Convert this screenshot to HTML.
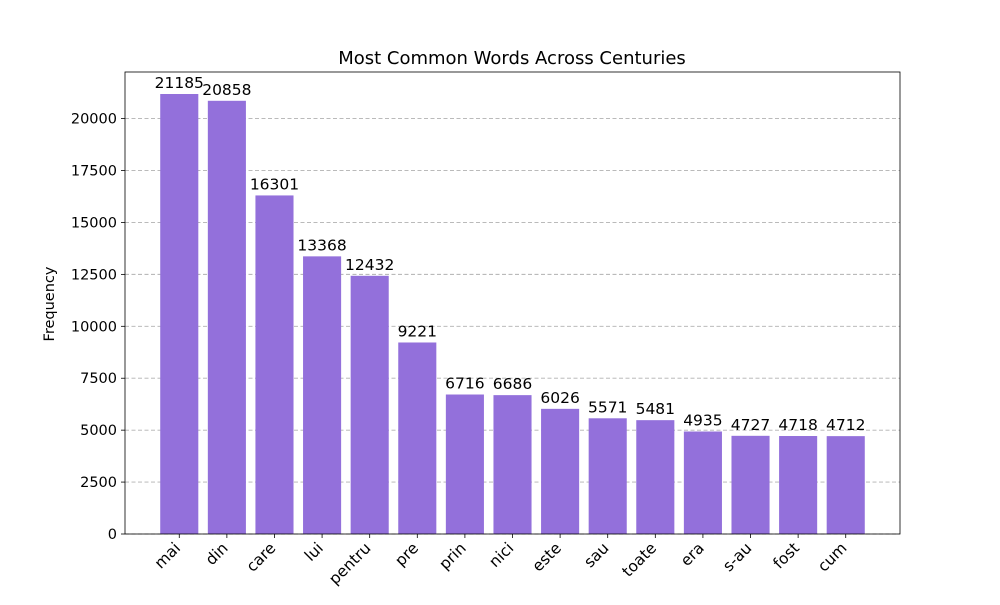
<!DOCTYPE html>
<html><head><meta charset="utf-8"><style>
body{margin:0;background:#fff;font-family:"Liberation Sans","DejaVu Sans",sans-serif}
svg text{font-family:"DejaVu Sans","Liberation Sans",sans-serif}
</style></head><body>
<svg id="c" width="1000" height="600" xmlns="http://www.w3.org/2000/svg"></svg>
<script>
const categories=["mai","din","care","lui","pentru","pre","prin","nici","este","sau","toate","era","s-au","fost","cum"];
const values=[21185,20858,16301,13368,12432,9221,6716,6686,6026,5571,5481,4935,4727,4718,4712];
const yTicks=[0,2500,5000,7500,10000,12500,15000,17500,20000];
const NS="http://www.w3.org/2000/svg";
const svg=document.getElementById('c');
const L=125,R=900,T=72,B=534;
const n=categories.length;
const x0=-0.4-0.05*(n-1+0.8), x1=n-1+0.4+0.05*(n-1+0.8);
const xs=v=>L+(v-x0)/(x1-x0)*(R-L);
const yMax=Math.max(...values)*1.05;
const ys=v=>B-v/yMax*(B-T);
function el(t,a,txt){const e=document.createElementNS(NS,t);for(const k in a)e.setAttribute(k,a[k]);if(txt!==undefined)e.textContent=txt;svg.appendChild(e);return e;}
yTicks.forEach(v=>{
 const g=el('line',{x1:L,x2:R,y1:ys(v),y2:ys(v),stroke:'#b0b0b0','stroke-width':0.9,'stroke-dasharray':'4,2.5'});
 
 
 el('line',{x1:L-4,x2:L,y1:ys(v),y2:ys(v),stroke:'#000','stroke-width':0.8});
 const t=el('text',{x:L-8,y:ys(v)+5,'text-anchor':'end','font-size':14.5},String(v));
 
 
});
const bw=(xs(0.8)-xs(0));
values.forEach((v,i)=>{
 const b=el('rect',{x:xs(i)-bw/2,y:ys(v),width:bw,height:B-ys(v),fill:'#9370db'});
 
 
 const t=el('text',{x:xs(i),y:ys(v)-6,'text-anchor':'middle','font-size':15.5},String(v));
 
 
 el('line',{x1:xs(i),x2:xs(i),y1:B,y2:B+4,stroke:'#000','stroke-width':0.8});
 const xl=el('text',{x:0,y:0,'text-anchor':'end','font-size':15.5,transform:`translate(${xs(i)+2},${B+15}) rotate(-45)`},categories[i]);
 
 
});
const f=el('rect',{x:L,y:T,width:R-L,height:B-T,fill:'none',stroke:'#000','stroke-width':0.8});


const ti=el('text',{x:512,y:64,'text-anchor':'middle','font-size':18},'Most Common Words Across Centuries');


const yl=el('text',{x:0,y:0,'text-anchor':'middle','font-size':14.5,transform:'translate(54,304) rotate(-90)'},'Frequency');


const xl=el('text',{x:512,y:612,'text-anchor':'middle','font-size':14.5},'Words');


</script>
</body></html>
